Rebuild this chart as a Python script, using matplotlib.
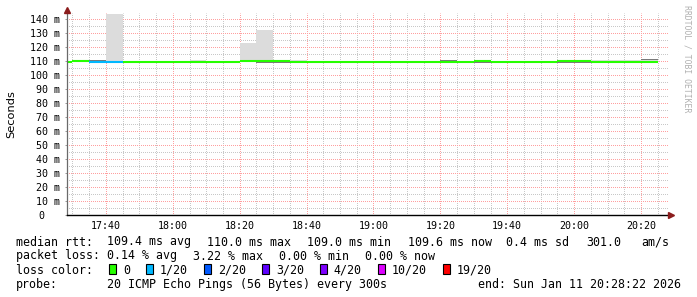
import matplotlib
matplotlib.use("Agg")
import matplotlib.pyplot as plt
import matplotlib.transforms as mtransforms
from matplotlib.patches import Rectangle
import numpy as np

# ---------------- data ----------------
bin_starts = ["17:25", "17:30", "17:35", "17:40", "17:45", "17:50", "17:55",
              "18:00", "18:05", "18:10", "18:15", "18:20", "18:25", "18:30",
              "18:35", "18:40", "18:45", "18:50", "18:55", "19:00", "19:05",
              "19:10", "19:15", "19:20", "19:25", "19:30", "19:35", "19:40",
              "19:45", "19:50", "19:55", "20:00", "20:05", "20:10", "20:15",
              "20:20"]
median_ms = [109.3, 110.1, 109.5, 109.2, 109.0, 109.0, 109.0,
             109.3, 109.5, 109.0, 109.5, 110.1, 110.1, 110.1,
             109.5, 109.0, 109.0, 109.0, 109.0, 109.5, 109.5,
             109.0, 109.5, 109.6, 109.5, 110.1, 109.5, 109.5,
             109.5, 109.5, 110.1, 110.1, 109.6, 109.0, 109.6,
             109.6]
loss_count = [0, 0, 1, 1, 0, 0, 0,
              0, 0, 0, 0, 0, 0, 0,
              0, 0, 0, 0, 0, 0, 0,
              0, 0, 0, 0, 0, 0, 0,
              0, 0, 0, 0, 0, 0, 0,
              0]
smoke_lo = [109.3, 109.6, 109.3, 109.0, 109.0, 109.0, 109.0,
            109.3, 109.5, 109.0, 109.5, 109.6, 108.9, 108.9,
            109.5, 109.0, 109.0, 109.0, 109.0, 109.5, 109.5,
            109.0, 109.5, 109.6, 109.5, 108.9, 109.5, 109.5,
            109.5, 109.5, 108.9, 108.9, 109.6, 109.0, 109.6,
            109.6]
smoke_hi = [109.3, 110.5, 110.7, 143.5, 109.0, 109.0, 109.0,
            109.3, 110.7, 109.0, 109.5, 122.9, 132.1, 110.5,
            110.7, 109.0, 109.0, 109.0, 109.0, 109.5, 109.5,
            109.0, 109.5, 110.8, 109.5, 110.1, 109.5, 109.5,
            109.5, 109.5, 110.1, 110.1, 110.8, 110.8, 110.8,
            111.1]
dark_lo = [0, 0, 110.3, 0, 0, 0, 0,
           0, 0, 0, 0, 0, 108.9, 108.9,
           0, 0, 0, 0, 0, 0, 0,
           0, 0, 110.3, 0, 108.9, 0, 0,
           0, 0, 108.9, 108.9, 0, 0, 0,
           110.5]
dark_hi = [0, 0, 110.7, 0, 0, 0, 0,
           0, 0, 0, 0, 0, 109.4, 109.4,
           0, 0, 0, 0, 0, 0, 0,
           0, 0, 110.7, 0, 109.4, 0, 0,
           0, 0, 109.4, 109.4, 0, 0, 0,
           111.1]

loss_levels = [0, 1, 2, 3, 4, 10, 19]
loss_labels = ["0", "1/20", "2/20", "3/20", "4/20", "10/20", "19/20"]
loss_colors = ["#26ff00", "#00b8ff", "#0059ff", "#5e00ff", "#7e00ff",
               "#dd00ff", "#ff0000"]

window_start = "17:28:22"
window_end = "20:28:22"
x_tick_labels = ["17:40", "18:00", "18:20", "18:40", "19:00", "19:20",
                 "19:40", "20:00", "20:20"]
y_tick_values = [0, 10, 20, 30, 40, 50, 60, 70, 80, 90, 100, 110, 120, 130, 140]
y_tick_labels = ["0"] + [f"{v} m" for v in y_tick_values[1:]]

stat_rtt = [("median rtt:", 16), ("109.4 ms avg", 107), ("110.0 ms max", 207),
            ("109.0 ms min", 307), ("109.6 ms now", 408), ("0.4 ms sd", 506.5),
            ("301.0", 586.5), ("am/s", 641.5)]
stat_loss = [("packet loss:", 16), ("0.14 % avg", 107), ("3.22 % max", 193),
             ("0.00 % min", 279), ("0.00 % now", 365)]
probe_row = [("probe:", 16), ("20 ICMP Echo Pings (56 Bytes) every 300s", 107),
             ("end: Sun Jan 11 20:28:22 2026", 478)]


def to_min(s):
    parts = [float(p) for p in s.split(":")]
    while len(parts) < 3:
        parts.append(0.0)
    return parts[0] * 60 + parts[1] + parts[2] / 60.0


# ---------------- figure ----------------
W, H, DPI = 697, 297, 100
MONO = "DejaVu Sans Mono"
PX = 72.0 / DPI  # one pixel in points
fig = plt.figure(figsize=(W / DPI, H / DPI), dpi=DPI, facecolor="white")

ax_left, ax_right, ax_top, ax_bottom = 67, 669, 13, 215
ax = fig.add_axes([ax_left / W, 1 - ax_bottom / H,
                   (ax_right - ax_left) / W, (ax_bottom - ax_top) / H])
ax.set_facecolor("white")

starts = np.array([to_min(s) for s in bin_starts])
med = np.array(median_ms)
lo = np.array(smoke_lo)
hi = np.array(smoke_hi)
dlo = np.array(dark_lo)
dhi = np.array(dark_hi)
step = 5.0

# smoke
ax.bar(starts, hi - lo, bottom=lo, width=step, align="edge",
       color="#dcdcdc", linewidth=0, zorder=2)
mask = dhi > dlo
ax.bar(starts[mask], (dhi - dlo)[mask], bottom=dlo[mask], width=step,
       align="edge", color="#5a5a5a", linewidth=0, zorder=3, alpha=0.75)

# median coloured by loss
cols = [loss_colors[loss_levels.index(c)] for c in loss_count]
ax.hlines(med, starts, starts + step, colors=cols, linewidth=1.5, zorder=4)

xmin, xmax = to_min(window_start), to_min(window_end)
ax.set_xlim(xmin, xmax)
ax.set_ylim(0, 144.3)

# ticks
xt = [to_min(s) for s in x_tick_labels]
ax.set_xticks(xt)
ax.set_xticklabels(x_tick_labels, fontfamily=MONO, fontsize=7.2)
minor_x = [v for v in np.arange(np.ceil(xmin / 5) * 5, xmax, 5)
           if min(abs(v - t) for t in xt) > 1e-6]
ax.set_xticks(minor_x, minor=True)
ax.set_yticks(y_tick_values)
ax.set_yticklabels(y_tick_labels, fontfamily=MONO, fontsize=7.2)
ax.set_yticks(np.arange(5, 144, 10), minor=True)

ax.tick_params(axis="x", which="both", length=0, pad=4.0)
ax.tick_params(axis="y", which="major", length=1.6, width=0.7,
               color="#999999", pad=3.8)
ax.tick_params(axis="y", which="minor", length=0)

# "0" label sits further left (no unit suffix)
lab0 = ax.yaxis.get_major_ticks()[0].label1
lab0.set_transform(lab0.get_transform() +
                   mtransforms.ScaledTranslation(-15 / DPI, 0,
                                                 fig.dpi_scale_trans))

# grid: 1px-on/1px-off dots, offset half a pixel to land on pixel cells
ax.set_axisbelow(True)
ax.grid(which="minor", color="#c8c8c8", linewidth=PX,
        linestyle=(0.5, (1, 1)))
ax.grid(which="major", color="#ff9f9f", linewidth=PX,
        linestyle=(0.5, (1, 1)))

for s in ("top", "right"):
    ax.spines[s].set_visible(False)
ax.spines["left"].set_color("#6a6a6a")
ax.spines["left"].set_linewidth(0.9)
ax.spines["bottom"].set_color("black")
ax.spines["bottom"].set_linewidth(1.0)
ax.spines["left"].set_zorder(5)
ax.spines["bottom"].set_zorder(5)

# arrows at axis ends
ax.plot([0], [1 + 3 / 202], marker="^", markersize=4.5, color="#8b1c1c",
        transform=ax.transAxes, clip_on=False, zorder=6)
ax.plot([1 + 2 / 602], [0], marker=">", markersize=4.5, color="#8b1c1c",
        transform=ax.transAxes, clip_on=False, zorder=6)

# y label
fig.text(11 / W, 1 - 114 / H, "Seconds", rotation=90, ha="center",
         va="center", fontsize=8.2, fontfamily="DejaVu Sans")

# watermark
fig.text(687.5 / W, 1 - 59 / H, "RRDTOOL / TOBI OETIKER", rotation=270,
         ha="center", va="center", fontsize=5.9, fontfamily=MONO,
         color="#b0b0b0")

# legend / stats text
LFS = 8.35


def row(items, baseline):
    for txt, x in items:
        fig.text(x / W, 1 - baseline / H, txt, ha="left", va="baseline",
                 fontsize=LFS, fontfamily=MONO, color="black")


row(stat_rtt, 245.5)
row(stat_loss, 259.5)
row([("loss color:", 16)], 273.5)
row(probe_row, 287.6)

char_w = 0.602 * LFS * DPI / 72.0
sq_x = 109.0
for lab, colr in zip(loss_labels, loss_colors):
    fig.add_artist(Rectangle((sq_x / W, 1 - 274.3 / H), 7 / W, 10 / H,
                             transform=fig.transFigure, facecolor=colr,
                             edgecolor="black", linewidth=0.8))
    tx = sq_x + 14
    fig.text(tx / W, 1 - 273.5 / H, lab, ha="left", va="baseline",
             fontsize=LFS, fontfamily=MONO, color="black")
    sq_x = tx + char_w * len(lab) + 16

fig.savefig("out.png", dpi=DPI, facecolor="white")
